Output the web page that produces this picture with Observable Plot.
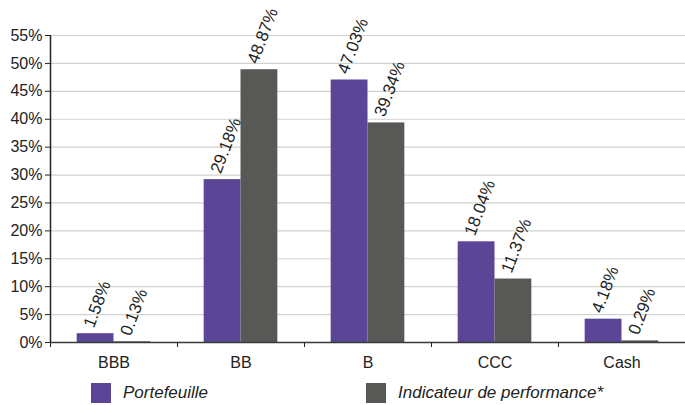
<!DOCTYPE html>
<html><head><meta charset="utf-8">
<script src="https://cdn.jsdelivr.net/npm/d3@7"></script>
<script src="https://cdn.jsdelivr.net/npm/@observablehq/plot@0.6"></script>
<style>
body{margin:0;background:#fff;font-family:"Liberation Sans",Arial,sans-serif;}
#legend{position:relative;height:30px;width:685px;}
.item{position:absolute;top:8px;display:flex;align-items:center;font-style:italic;font-size:17px;color:#222;white-space:nowrap}
.sw{width:20px;height:20px;margin-right:12px}
</style></head><body>
<div id="chart"></div>
<div id="legend"></div>
<script>
const categories = ["BBB","BB","B","CCC","Cash"];
const series = ["Portefeuille","Indicateur de performance*"];
const portefeuille = [1.58,29.18,47.03,18.04,4.18];
const indicateur = [0.13,48.87,39.34,11.37,0.29];
const yTicks = [0,5,10,15,20,25,30,35,40,45,50,55];
const colors = ["#5a4597","#585857"];

const W = 0.29; // bar width as fraction of category band
const rows = [];
categories.forEach((c, i) => {
  rows.push({cat:c, i, s:series[0], value:portefeuille[i], x1:i-W, x2:i});
  rows.push({cat:c, i, s:series[1], value:indicateur[i], x1:i, x2:i+W});
});
const idx = categories.map((c,i)=>i);
const bounds = [-0.5, ...categories.slice(1).map((c,i)=>i+0.5)];

const chart = Plot.plot({
  width:685, height:375,
  marginTop:35, marginBottom:33, marginLeft:50, marginRight:0,
  style:{fontFamily:"'Liberation Sans', Arial, sans-serif", fontSize:"16px", color:"#222", background:"#fff"},
  x:{domain:[-0.5, categories.length-0.5]},
  y:{domain:[0,55]},
  color:{domain:series, range:colors},
  marks:[
    Plot.gridY(yTicks, {stroke:"#d2d2d2", strokeOpacity:1, strokeWidth:1.2}),
    Plot.rectY(rows, {x1:"x1", x2:"x2", y:"value", fill:"s"}),
    Plot.text(rows, {x:d=>(d.x1+d.x2)/2, y:"value", text:d=>d.value.toFixed(2)+"%",
      rotate:-69, textAnchor:"start", dx:-7, dy:-7, fontSize:17, fill:"#222"}),
    Plot.ruleX([-0.5], {y1:0, y2:55, stroke:"#222", strokeWidth:1.5}),
    Plot.ruleY([0], {stroke:"#3a3a3a", strokeWidth:1.5}),
    Plot.axisY(yTicks, {tickFormat:d=>d+"%", tickSize:5, tickPadding:3, fontSize:16, label:null, stroke:"#222"}),
    Plot.axisX(bounds, {tickFormat:()=>"", tickSize:5, label:null, stroke:"#222"}),
    Plot.axisX(idx, {tickFormat:i=>categories[i], tickSize:0, tickPadding:14, fontSize:16, label:null})
  ]
});
document.getElementById("chart").appendChild(chart);

const legend = document.getElementById("legend");
const lx = [91, 366];
series.forEach((s,k)=>{
  const it = document.createElement("div");
  it.className = "item";
  it.style.left = lx[k]+"px";
  it.innerHTML = `<span class="sw" style="background:${colors[k]}"></span><span>${s}</span>`;
  legend.appendChild(it);
});
</script>
</body></html>
